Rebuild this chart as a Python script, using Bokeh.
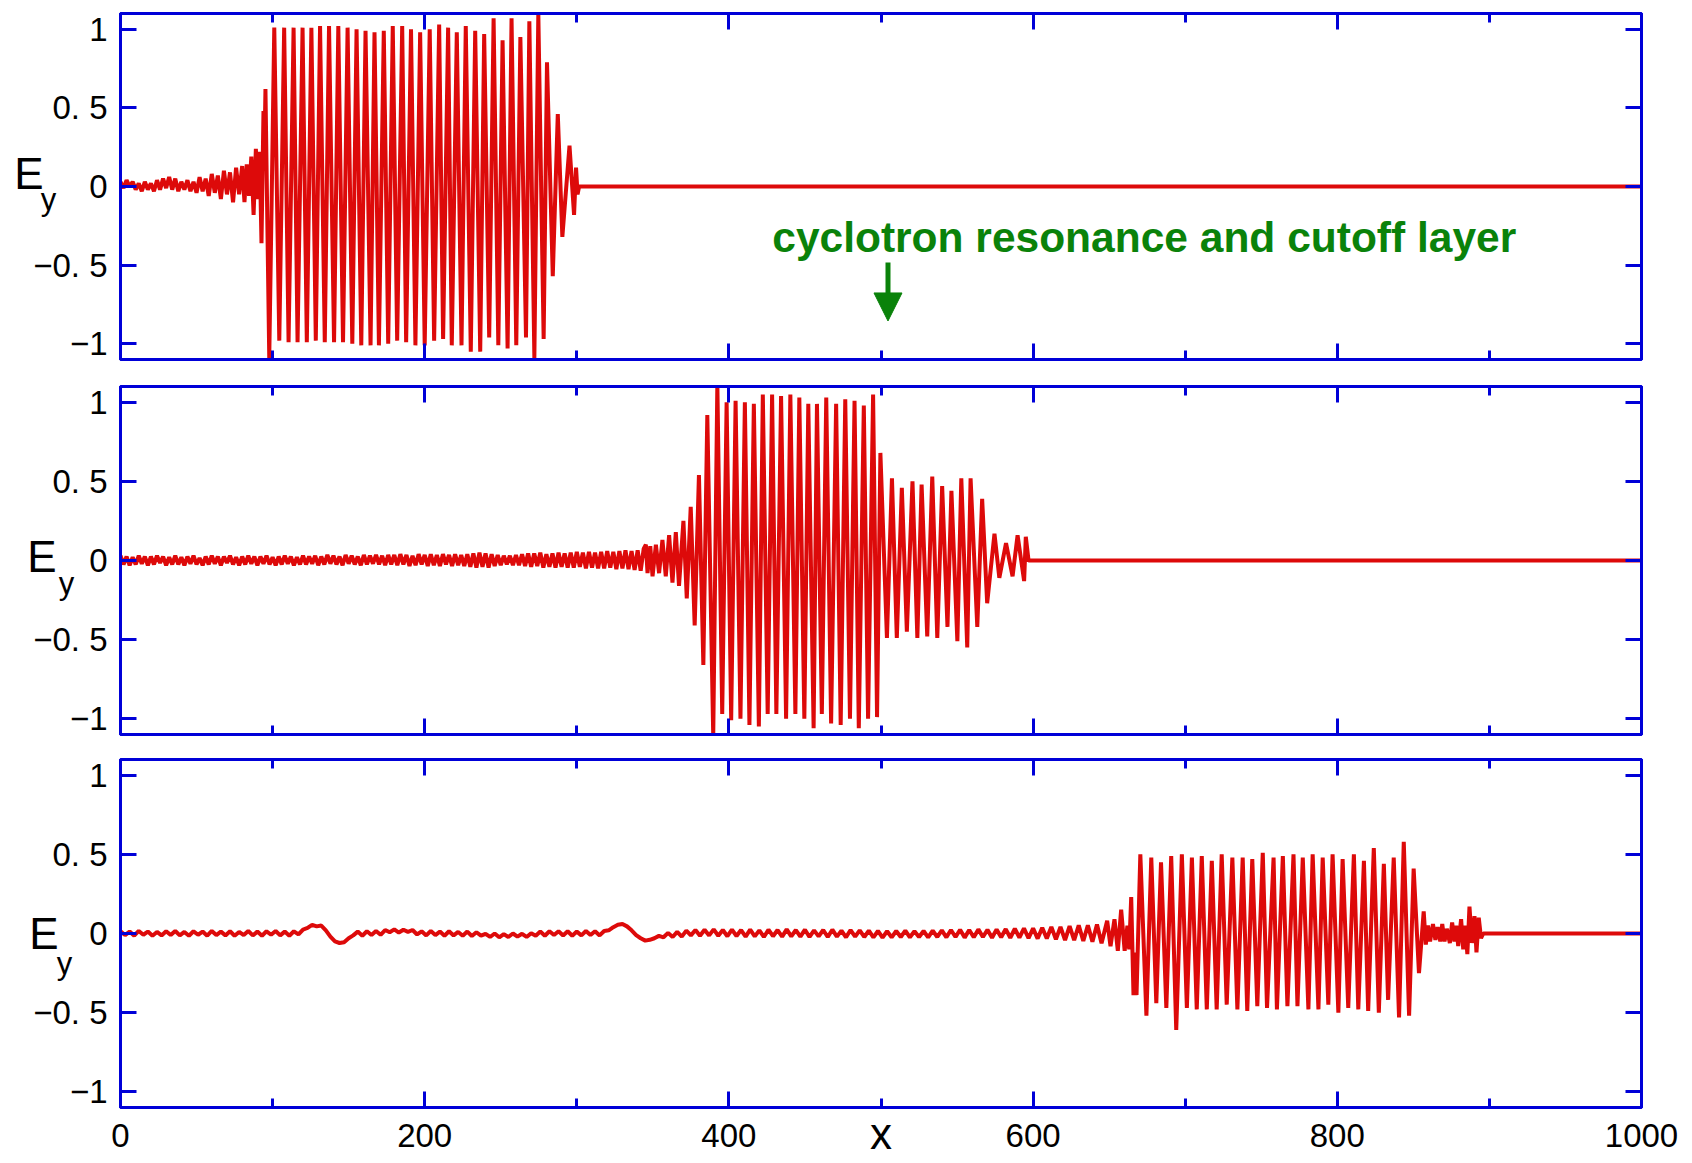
from bokeh.plotting import figure
from bokeh.layouts import column
from bokeh.models import (Range1d, LinearAxis, FixedTicker, Label, Arrow, NormalHead,
                          CustomLabelingPolicy)
from bokeh.embed import file_html
from bokeh.resources import INLINE

RED = "#DD0A0A"
BLUE = "#0000D8"
GREEN = "#0A820A"
SANS = "Liberation Sans, Arial, sans-serif"

# ---------------- top panel: E_y along x ----------------
top_noise_x = [0, 2, 4, 6, 8, 10, 12, 14, 16, 18, 20, 22, 24, 26, 28, 30, 32, 34, 36, 38,
               40, 42, 44, 46, 48, 50, 52, 54, 56, 58, 60, 62, 64, 66, 68, 70, 72, 74, 76]
top_noise_y = [0.03, -0.01, 0.04, 0.0, 0.03, -0.02, 0.02, -0.03, 0.03, -0.02, 0.02, -0.03, 0.04,
               -0.02, 0.05, -0.01, 0.06, -0.02, 0.05, -0.03, 0.03, -0.02, 0.04, -0.03, 0.03, -0.04,
               0.06, -0.03, 0.05, -0.06, 0.08, -0.04, 0.07, -0.08, 0.10, -0.05, 0.09, -0.10, 0.12]
top_wave_x = [78, 80, 81.5, 83, 84.5, 86, 87.5, 89, 90.5, 91.5, 92.7, 94, 94.6, 95.3,
              97.8, 101.1, 104.4, 107.6, 110.5, 113.8, 116.4, 119.7, 122.5, 125.5, 128.4,
              131.2, 134.3, 137.1, 140.4, 143.2, 146.3, 149.3, 152.4, 155.2, 158.3, 161.1,
              164.4, 167.0, 169.9, 173.1, 176.0, 179.0, 181.9, 185.2, 187.8, 191.0, 193.9,
              197.0, 200.0, 203.3, 206.2, 209.5, 212.1, 215.4, 217.8, 221.1, 224.2, 227.0,
              230.3, 233.2, 236.5, 239.1, 242.4, 245.3, 248.4, 251.2, 254.5, 257.1, 260.2,
              262.9, 266.6, 268.8, 272.1, 274.7, 278.2, 280.4, 284.2, 287.5, 290.5, 295.2,
              298.2, 299.5, 300.5, 301.5, 1000]
top_wave_y = [-0.05, 0.13, -0.10, 0.14, -0.06, 0.19, -0.18, 0.24, -0.08, 0.22, -0.36, 0.48, 0.2, 0.62,
              -1.09, 1.01, -0.98, 1.01, -0.99, 1.01, -0.99, 1.01, -0.99, 1.01, -0.98,
              1.02, -0.99, 1.02, -0.99, 1.02, -0.99, 1.01, -1.0, 1.0, -1.01, 0.99,
              -1.01, 0.98, -1.01, 0.99, -1.0, 1.02, -0.98, 1.02, -0.99, 1.0, -1.01,
              0.98, -1.01, 1.0, -0.98, 1.03, -0.97, 1.01, -1.01, 0.98, -1.01, 1.02,
              -1.05, 0.99, -1.05, 0.97, -0.96, 1.07, -1.01, 0.93, -1.03, 1.07, -1.01,
              0.95, -0.96, 1.05, -1.09, 1.10, -0.97, 0.79, -0.57, 0.46, -0.32, 0.26,
              -0.18, 0.12, -0.05, 0.0, 0.0]

# ---------------- middle panel ----------------
mid_noise_x = [0, 2, 4, 6, 8, 10, 12, 14, 16, 18, 20, 22, 24, 26, 28, 30, 32, 34, 36, 38,
               40, 42, 44, 46, 48, 50, 52, 54, 56, 58, 60, 62, 64, 66, 68, 70, 72, 74, 76, 78,
               80, 82, 84, 86, 88, 90, 92, 94, 96, 98, 100, 102, 104, 106, 108, 110, 112, 114, 116, 118,
               120, 122, 124, 126, 128, 130, 132, 134, 136, 138, 140, 142, 144, 146, 148, 150, 152, 154, 156, 158,
               160, 162, 164, 166, 168, 170, 172, 174, 176, 178, 180, 182, 184, 186, 188, 190, 192, 194, 196, 198,
               200, 202, 204, 206, 208, 210, 212, 214, 216, 218, 220, 222, 224, 226, 228, 230, 232, 234, 236, 238,
               240, 242, 244, 246, 248, 250, 252, 254, 256, 258, 260, 262, 264, 266, 268, 270, 272, 274, 276, 278,
               280, 282, 284, 286, 288, 290, 292, 294, 296, 298, 300, 302, 304, 306, 308, 310, 312, 314, 316, 318,
               320, 322, 324, 326, 328, 330, 332, 334, 336, 338, 340, 342, 344]
mid_noise_y = [0.03, -0.025, 0.025, -0.03, 0.02, -0.025, 0.03, -0.02, 0.025, -0.03,
               0.025, -0.025, 0.03, -0.015, 0.025, -0.03, 0.02, -0.025, 0.03, -0.025,
               0.02, -0.03, 0.025, -0.02, 0.03, -0.025, 0.015, -0.03, 0.025, -0.025,
               0.03, -0.02, 0.025, -0.03, 0.025, -0.015, 0.03, -0.025, 0.02, -0.03,
               0.025, -0.025, 0.03, -0.02, 0.025, -0.03, 0.025, -0.02, 0.03, -0.025,
               0.02, -0.03, 0.025, -0.025, 0.03, -0.02, 0.025, -0.03, 0.02, -0.025,
               0.03, -0.025, 0.025, -0.02, 0.03, -0.03, 0.025, -0.025, 0.035, -0.02,
               0.03, -0.025, 0.025, -0.03, 0.035, -0.02, 0.03, -0.025, 0.025, -0.03,
               0.035, -0.025, 0.03, -0.02, 0.035, -0.025, 0.03, -0.03, 0.035, -0.025,
               0.035, -0.03, 0.04, -0.025, 0.035, -0.035, 0.03, -0.03, 0.04, -0.025,
               0.035, -0.035, 0.04, -0.03, 0.035, -0.035, 0.04, -0.025, 0.035, -0.035,
               0.04, -0.03, 0.035, -0.035, 0.04,
               -0.04, 0.045, -0.045, 0.05, -0.04, 0.045, -0.045, 0.04, -0.035, 0.035,
               -0.03, 0.03, -0.025, 0.03, -0.03, 0.035, -0.03,
               0.04, -0.035, 0.045, -0.04, 0.045, -0.035, 0.05, -0.045, 0.04, -0.04,
               0.045, -0.045, 0.05, -0.04, 0.045, -0.045, 0.05, -0.045, 0.055, -0.04,
               0.05, -0.05, 0.055, -0.045, 0.05, -0.05, 0.055, -0.05, 0.06, -0.045,
               0.055, -0.055, 0.06, -0.05, 0.065, -0.055, 0.06, -0.06, 0.065, -0.065,
               0.075]
mid_wave_x = [345.4, 346.5, 348.3, 349.8, 352.0, 354.1, 356.3, 358.5, 360.7, 362.9, 365.1, 367.2,
              370.1, 372.3, 374.9, 377.5, 380.3, 383.2, 385.8, 389.7, 392.4, 395.6, 398.5, 401.5,
              404.4, 407.6, 410.5, 413.5, 416.4, 419.7, 422.3, 425.5, 428.4, 431.2, 434.3, 437.6,
              440.4, 443.7, 446.3, 449.6, 452.2, 455.7, 457.9, 461.1, 464.0, 467.2, 470.5, 473.5,
              476.5, 479.6, 482.6, 485.4, 488.7, 491.5, 494.8, 497.4, 499.6, 503.9, 507.2, 510.4,
              513.7, 517.0, 520.7, 523.9, 526.7, 530.4, 533.7, 537.0, 540.2, 543.7, 546.3, 550.2,
              552.8, 556.7, 558.9, 563.3, 566.5, 569.8, 574.6, 577.8, 582.2, 586.5, 589.8, 594.1,
              595.2, 597.0, 1000]
mid_wave_y = [0.10, -0.08, 0.09, -0.10, 0.10, -0.08, 0.13, -0.10, 0.16, -0.14, 0.18, -0.16,
              0.25, -0.24, 0.34, -0.41, 0.54, -0.66, 0.92, -1.11, 1.12, -0.97, 1.0, -1.01,
              1.01, -1.0, 1.0, -1.04, 0.99, -1.05, 1.05, -0.97, 1.05, -0.97, 1.04, -1.0,
              1.05, -0.97, 1.03, -1.0, 0.99, -1.06, 0.99, -0.97, 1.03, -1.03, 0.99, -1.04,
              1.02, -1.0, 1.01, -1.06, 0.98, -1.0, 1.05, -0.99, 0.68, -0.49, 0.52, -0.49,
              0.46, -0.45, 0.50, -0.49, 0.48, -0.48, 0.53, -0.49, 0.47, -0.42, 0.44, -0.51,
              0.52, -0.55, 0.52, -0.42, 0.39, -0.27, 0.17, -0.11, 0.11, -0.10, 0.16, -0.13,
              0.15, 0.0, 0.0]

# ---------------- bottom panel ----------------
bot_noise_x = [0, 3, 6, 9, 12, 15, 18, 21, 24, 27, 30, 33, 36, 39, 42, 45, 48, 51, 54, 57,
               60, 63, 66, 69, 72, 75, 78, 81, 84, 87, 90, 93, 96, 99, 102, 105, 108, 111, 114, 117,
               120, 123, 126, 129, 132, 135, 138, 141, 144, 147, 150, 153, 156, 159, 162, 165, 168, 171, 174, 177,
               180, 183, 186, 189, 192, 195, 198, 201, 204, 207, 210, 213, 216, 219, 222, 225, 228, 231, 234, 237,
               240, 243, 246, 249, 252, 255, 258, 261, 264, 267, 270, 273, 276, 279, 282, 285, 288, 291, 294, 297,
               300, 303, 306, 309, 312, 315, 318, 321, 324, 327, 330, 333, 336, 339, 342, 345, 348, 351, 354, 357,
               360, 363, 366, 369, 372, 375, 378, 381, 384, 387, 390, 393, 396, 399, 402, 405, 408, 411, 414, 417,
               420, 423, 426, 429, 432, 435, 438, 441, 444, 447, 450, 453, 456, 459, 462, 465, 468, 471, 474, 477,
               480, 483, 486, 489, 492, 495, 498, 501, 504, 507, 510, 513, 516, 519, 522, 525, 528, 531, 534, 537,
               540, 543, 546, 549, 552, 555, 558, 561, 564, 567, 570, 573, 576, 579, 582, 585, 588, 591, 594, 597,
               600, 603, 606, 609, 612, 615, 618, 621, 624, 627, 630, 633, 636, 639, 642, 645]
bot_noise_y = [0.014, -0.01, 0.012, -0.014, 0.016, -0.008, 0.012, -0.014, 0.01, -0.012,
               0.014, -0.01, 0.016, -0.012, 0.01, -0.014, 0.014, -0.008, 0.012, -0.014,
               0.016, -0.01, 0.012, -0.012, 0.014, -0.014, 0.01, -0.01, 0.016, -0.012,
               0.012, -0.014, 0.014, -0.008, 0.016, -0.012, 0.012, -0.014, 0.014, -0.006,
               0.025, 0.035, 0.055, 0.045, 0.05, 0.02,
               -0.02, -0.05, -0.06, -0.055, -0.03,
               -0.012, 0.012, -0.014, 0.014, -0.01, 0.016, -0.008,
               0.022, 0.008, 0.026, 0.006, 0.024, 0.01, 0.022,
               -0.006, 0.014, -0.012, 0.016, -0.01, 0.012, -0.014, 0.014, -0.012, 0.01, -0.014, 0.012, -0.016, 0.008, -0.014,
               -0.002, -0.022, 0.0, -0.024, -0.004, -0.022, 0.0, -0.02, -0.002, -0.022, 0.002,
               -0.014, 0.012, -0.014, 0.014, -0.01, 0.014, -0.012, 0.014, -0.014, 0.012, -0.012, 0.016, -0.01, 0.014, -0.012, 0.016,
               0.02, 0.04, 0.055, 0.06, 0.045, 0.02,
               -0.01, -0.03, -0.045, -0.04, -0.03, -0.015,
               -0.024, 0.004, -0.022, 0.01, -0.02, 0.018, -0.012, 0.022, -0.014, 0.024, -0.012, 0.026, -0.014, 0.022, -0.017,
               0.024, -0.016, 0.022, -0.02, 0.024, -0.018, 0.02, -0.022, 0.024, -0.017, 0.022, -0.02, 0.026, -0.018, 0.022,
               -0.02, 0.024, -0.022, 0.02, -0.018, 0.022, -0.022, 0.024, -0.02, 0.018, -0.024, 0.022, -0.02, 0.02, -0.022,
               0.018, -0.024, 0.016, -0.026, 0.014, -0.024, 0.016, -0.022, 0.018, -0.024, 0.014, -0.022, 0.016, -0.024, 0.018,
               -0.022, 0.02, -0.024, 0.022, -0.022, 0.024, -0.026, 0.022, -0.024, 0.026, -0.022, 0.024, -0.027, 0.026, -0.024,
               0.028, -0.027, 0.03, -0.026, 0.032, -0.03, 0.032,
               -0.032, 0.037, -0.032, 0.042, -0.037, 0.042, -0.042, 0.047, -0.042, 0.052, -0.047, 0.052, -0.052, 0.057, -0.062]
bot_wave_x = [648.7, 650.9, 653.5, 655.7, 657.9, 660.2, 662.0, 663.2, 664.5, 666.0, 667.0, 668.0,
              670.5, 674.5, 677.7, 681.0, 684.1, 687.6, 690.8, 694.1, 697.8, 701.1, 704.4, 707.6,
              710.9, 714.2, 717.5, 720.7, 724.0, 727.3, 731.0, 734.3, 737.8, 740.8, 744.1, 747.4,
              751.0, 753.8, 758.1, 760.3, 764.2, 767.2, 771.2, 773.8, 777.3, 781.0, 783.8, 787.6,
              790.4, 794.1, 796.9, 800.7, 803.5, 807.2, 810.9, 813.8, 817.5, 820.3, 824.0, 827.3,
              830.6, 833.4, 837.1, 840.6, 843.7, 847.2, 850.2, 853.7, 856.8, 858.2, 859.6, 861.0,
              862.9, 864.5, 866.0, 867.7, 869.0, 870.5, 872.0, 874.0, 875.5, 877.0, 878.2, 879.5,
              881.4, 882.8, 884.1, 885.5, 886.9, 888.5, 890.2, 891.5, 893.0, 894.5, 896.0, 1000]
bot_wave_y = [0.08, -0.08, 0.09, -0.11, 0.15, -0.11, 0.05, -0.10, 0.23, -0.39, -0.12, -0.39,
              0.50, -0.52, 0.48, -0.44, 0.45, -0.47, 0.49, -0.61, 0.50, -0.47, 0.48, -0.48,
              0.49, -0.48, 0.46, -0.48, 0.50, -0.45, 0.48, -0.48, 0.48, -0.49, 0.47, -0.46,
              0.51, -0.47, 0.48, -0.48, 0.49, -0.46, 0.50, -0.46, 0.48, -0.48, 0.50, -0.48,
              0.48, -0.45, 0.50, -0.50, 0.47, -0.47, 0.50, -0.48, 0.46, -0.49, 0.54, -0.50,
              0.44, -0.42, 0.48, -0.53, 0.58, -0.52, 0.41, -0.25, 0.14, -0.07, 0.05, -0.05,
              0.06, -0.04, 0.04, -0.05, 0.06, -0.05, 0.03, -0.06, 0.07, -0.05, 0.05, -0.08,
              0.09, -0.10, 0.05, -0.13, 0.17, -0.06, 0.11, -0.12, 0.10, -0.03, 0.0, 0.0]

# ---------------- axes / tick labels ----------------
x_major = [0, 200, 400, 600, 800, 1000]
x_minor = [100, 300, 500, 700, 900]
y_major = [-1, -0.5, 0, 0.5, 1]
y_tick_text = {1: "1", 0.5: "0. 5", 0: "0", -0.5: "\u22120. 5", -1: "\u22121"}

annotation_text = "cyclotron resonance and cutoff layer"
field_symbol = "E"
field_component = "y"
x_title = "x"

W = 1692
HIDE_LABELS = "for (const i of indices) { indices.unset(i) }"


def style_axis(ax, ticker, show_labels, font_size="33px"):
    ax.ticker = ticker
    ax.axis_line_color = BLUE
    ax.axis_line_width = 3
    ax.major_tick_line_color = BLUE
    ax.major_tick_line_width = 3
    ax.minor_tick_line_color = BLUE
    ax.minor_tick_line_width = 3
    ax.major_tick_in = 16
    ax.major_tick_out = 0
    ax.minor_tick_in = 9
    ax.minor_tick_out = 0
    if show_labels:
        ax.major_label_text_font = SANS
        ax.major_label_text_font_size = font_size
        ax.major_label_text_color = "black"
    else:
        ax.major_label_text_font_size = "1px"
        ax.major_label_standoff = 0
        ax.major_label_policy = CustomLabelingPolicy(code=HIDE_LABELS)


def make_panel(xs, ys, height, left, top, bottom, frame_w, show_x_labels):
    p = figure(width=W, height=height,
               x_range=Range1d(0, 1000), y_range=Range1d(-1.1, 1.1),
               output_backend="svg", toolbar_location=None,
               min_border_left=left, min_border_right=W - left - frame_w,
               min_border_top=top, min_border_bottom=bottom,
               background_fill_color="white", border_fill_color="white")
    p.xgrid.visible = False
    p.ygrid.visible = False
    p.outline_line_color = BLUE
    p.outline_line_width = 3

    bottom_axis = p.below[0]
    left_axis = p.left[0]
    style_axis(bottom_axis, FixedTicker(ticks=x_major, minor_ticks=x_minor), show_x_labels, "33px")
    if show_x_labels:
        bottom_axis.major_label_standoff = 16
    style_axis(left_axis, FixedTicker(ticks=y_major, minor_ticks=[]), True)
    left_axis.major_label_overrides = y_tick_text
    left_axis.major_label_standoff = 13

    top_axis = LinearAxis()
    style_axis(top_axis, FixedTicker(ticks=x_major, minor_ticks=x_minor), False)
    p.add_layout(top_axis, "above")
    right_axis = LinearAxis()
    style_axis(right_axis, FixedTicker(ticks=y_major, minor_ticks=[]), False)
    p.add_layout(right_axis, "right")

    p.line(xs, ys, line_color=RED, line_width=4, line_join="bevel")
    return p, bottom_axis, left_axis


def add_field_label(p, inner, sub_standoff, sub_line_height, sym_standoff, sym_line_height):
    # subscript "y" sits in the tick-label column, "E" on an outer, tickless axis
    inner.axis_label = "\n" + field_component
    inner.axis_label_orientation = "horizontal"
    inner.axis_label_standoff = sub_standoff
    inner.axis_label_text_font = SANS
    inner.axis_label_text_font_size = "31px"
    inner.axis_label_text_font_style = "normal"
    inner.axis_label_text_color = "black"
    inner.axis_label_text_line_height = sub_line_height

    outer = LinearAxis(ticker=FixedTicker(ticks=[], minor_ticks=[]))
    outer.axis_line_color = None
    outer.major_tick_in = 0
    outer.major_tick_out = 0
    outer.minor_tick_in = 0
    outer.minor_tick_out = 0
    outer.major_label_standoff = 0
    outer.axis_label = field_symbol + "\n" if sym_line_height is not None else field_symbol
    outer.axis_label_orientation = "horizontal"
    outer.axis_label_standoff = sym_standoff
    outer.axis_label_text_font = SANS
    outer.axis_label_text_font_size = "44px"
    outer.axis_label_text_font_style = "normal"
    outer.axis_label_text_color = "black"
    if sym_line_height is not None:
        outer.axis_label_text_line_height = sym_line_height
    p.add_layout(outer, "left")


p1, _, p1_left = make_panel(top_noise_x + top_wave_x, top_noise_y + top_wave_y,
                            height=373, left=120, top=13, bottom=14, frame_w=1522,
                            show_x_labels=False)
add_field_label(p1, p1_left, -26, 0.76, -6, 0.52)
p1.add_layout(Label(x=428.5, y=-0.326, text=annotation_text, text_font=SANS,
                    text_font_style="bold", text_font_size="42.5px", text_color=GREEN,
                    text_align="left", text_baseline="alphabetic"))
p1.add_layout(Arrow(end=NormalHead(size=28, fill_color=GREEN, line_color=GREEN),
                    x_start=504.6, y_start=-0.483, x_end=504.6, y_end=-0.855,
                    line_color=GREEN, line_width=5))

p2, _, p2_left = make_panel(mid_noise_x + mid_wave_x, mid_noise_y + mid_wave_y,
                            height=373, left=113, top=13, bottom=12, frame_w=1528,
                            show_x_labels=False)
add_field_label(p2, p2_left, -44, 1.29, -1, 0.18)

p3, p3_bottom, p3_left = make_panel(bot_noise_x + bot_wave_x, bot_noise_y + bot_wave_y,
                                    height=417, left=116, top=13, bottom=56, frame_w=1526,
                                    show_x_labels=True)
add_field_label(p3, p3_left, -42, 1.74, -5, None)
p3_bottom.axis_label = x_title
p3_bottom.axis_label_standoff = -41
p3_bottom.axis_label_text_font = SANS
p3_bottom.axis_label_text_font_size = "44px"
p3_bottom.axis_label_text_font_style = "normal"
p3_bottom.axis_label_text_color = "black"

layout = column(p1, p2, p3, spacing=0)
open("out.html", "w").write(file_html(layout, INLINE))
